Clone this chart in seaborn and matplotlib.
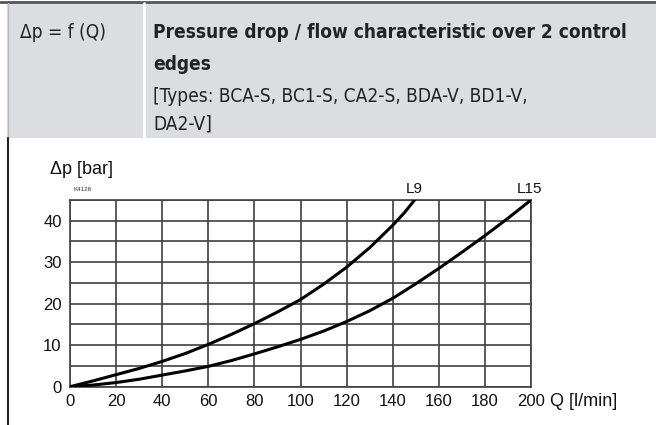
import matplotlib
matplotlib.use("Agg")
import matplotlib.pyplot as plt
import seaborn as sns
import pandas as pd
from matplotlib.patches import Rectangle
from matplotlib.lines import Line2D

# flow Q [l/min] and pressure drop [bar]
q_l9 = [0, 10, 20, 30, 40, 50, 60, 70, 80, 90, 100, 110, 120, 130, 140, 145, 149.5]
dp_l9 = [0, 1.4, 2.9, 4.4, 6.1, 8.0, 10.2, 12.6, 15.2, 18.0, 21.0, 24.7, 28.8, 33.5, 38.9, 41.9, 45.0]
q_l15 = [0, 10, 20, 30, 40, 50, 60, 70, 80, 90, 100, 110, 120, 130, 140, 150, 160, 170, 180, 190, 200]
dp_l15 = [0, 0.4, 1.0, 1.8, 2.8, 3.8, 4.9, 6.3, 7.9, 9.6, 11.4, 13.4, 15.7, 18.3, 21.3, 24.8, 28.5, 32.4, 36.4, 40.6, 45.0]
x_ticks = [0, 20, 40, 60, 80, 100, 120, 140, 160, 180, 200]
y_ticks = [0, 10, 20, 30, 40]
y_grid = [0, 5, 10, 15, 20, 25, 30, 35, 40, 45]

df = pd.concat([
    pd.DataFrame({"Q": q_l9, "dp": dp_l9, "curve": "L9"}),
    pd.DataFrame({"Q": q_l15, "dp": dp_l15, "curve": "L15"}),
])

sns.set_style("white")
plt.rcParams["font.family"] = ["Liberation Sans", "DejaVu Sans"]
narrow = ["Liberation Sans Narrow", "DejaVu Sans"]

fig = plt.figure(figsize=(6.56, 4.25), dpi=100)
W, H = 656, 425

def fx(px):
    return px / W

def fy(py):
    return 1 - py / H

# header block
fig.patches.append(Rectangle((fx(7), fy(138)), fx(649), 135 / H, transform=fig.transFigure,
                             facecolor="#dcdde0", edgecolor="none", zorder=0))
fig.lines.append(Line2D([0, 1], [fy(1.5), fy(1.5)], transform=fig.transFigure, color="#555555", lw=2))
fig.lines.append(Line2D([fx(143.5), fx(143.5)], [fy(3), fy(138)], transform=fig.transFigure,
                        color="white", lw=2))
fig.lines.append(Line2D([fx(7.5), fx(7.5)], [fy(3), fy(138)], transform=fig.transFigure,
                        color="#bbbbbd", lw=1))
fig.lines.append(Line2D([fx(7.5), fx(7.5)], [fy(138), 0], transform=fig.transFigure,
                        color="#222222", lw=1.5))

hdr = dict(family=narrow, fontstretch="condensed", fontsize=13.7, va="center", color="#222222")
fig.text(fx(20), fy(32), "Δp = f (Q)", **hdr)
fig.text(fx(153), fy(32), "Pressure drop / flow characteristic over 2 control",
         fontweight="bold", **hdr)
fig.text(fx(153), fy(64), "edges", fontweight="bold", **hdr)
fig.text(fx(153), fy(96), "[Types: BCA-S, BC1-S, CA2-S, BDA-V, BD1-V,", **hdr)
fig.text(fx(153), fy(124), "DA2-V]", **hdr)

# chart
ax = fig.add_axes([fx(70), 1 - 386.7 / H, 461 / W, 186.7 / H])
sns.lineplot(data=df, x="Q", y="dp", units="curve", estimator=None, color="black",
             lw=2.2, sort=False, ax=ax, zorder=3)
ax.set_xlim(0, 200)
ax.set_ylim(0, 45)
ax.set_xticks(x_ticks)
ax.set_yticks(y_ticks)
ax.set_yticks(y_grid, minor=True)
ax.grid(True, which="both", color="#404040", lw=1.2)
ax.tick_params(which="both", length=0, labelsize=12, colors="#111111")
ax.tick_params(axis="y", pad=6)
ax.tick_params(axis="x", pad=5)
for s in ax.spines.values():
    s.set_color("#404040")
    s.set_linewidth(1.2)
ax.set_xlabel("")
ax.set_ylabel("")

fig.text(fx(50), fy(170), "Δp [bar]", fontsize=13, va="center", color="#111111")
fig.text(fx(73), fy(190), "K4128", fontsize=4.5, va="center", color="#333333")
fig.text(fx(550), fy(401), "Q [l/min]", fontsize=13, va="center", color="#111111")
fig.text(fx(414), fy(189), "L9", fontsize=11, va="center", ha="center", color="#111111")
fig.text(fx(530), fy(189), "L15", fontsize=11, va="center", ha="center", color="#111111")

fig.savefig("out.png", dpi=100)
